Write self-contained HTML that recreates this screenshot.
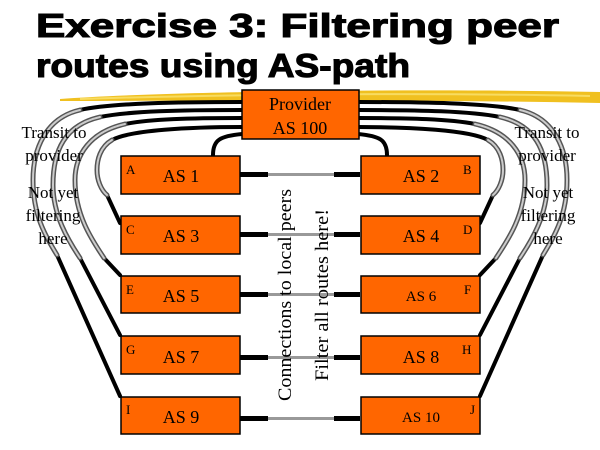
<!DOCTYPE html>
<html><head><meta charset="utf-8"><style>html,body{margin:0;padding:0;background:#fff;}svg{display:block}</style></head>
<body>
<svg width="600" height="450" viewBox="0 0 600 450" xmlns="http://www.w3.org/2000/svg">
<g font-family="Liberation Sans, sans-serif" font-weight="bold" font-size="33" stroke="#000" stroke-width="1.1">
<text x="36" y="37" textLength="523" lengthAdjust="spacingAndGlyphs">Exercise 3: Filtering peer</text>
<text x="36" y="77" textLength="374" lengthAdjust="spacingAndGlyphs">routes using AS-path</text>
</g>
<path d="M60,99 C150,92 400,88 600,92 L600,103 C400,99 200,101 60,101 Z" fill="#f0c020"/>
<path d="M80,99 C200,95 400,92 590,96" stroke="#f8dc60" stroke-width="2" fill="none"/>
<g fill="none" stroke-linecap="round">
<g id="L">
<g stroke="#000" stroke-width="4">
<path d="M242,102 C180,102 110,103 80,110"/><path d="M57,255 L120,396"/>
<path d="M242,110 C180,110 130,111 100,117"/><path d="M80,258 L120,335"/>
<path d="M242,118 C190,118 150,119 125,124"/><path d="M104,258 L120,275"/>
<path d="M242,127 C190,127 130,130 112,140"/><path d="M107,195 L120,223"/>
<path d="M242,134 C220,136 213,140 213,155"/>
</g>
<g id="G">
<path d="M80,110 C45,118 33,150 33,180 C33,215 45,235 57,255"/>
<path d="M100,117 C65,125 53,150 53,185 C53,215 68,240 80,258"/>
<path d="M125,124 C90,132 75,155 75,180 C75,215 92,240 104,258"/>
<path d="M112,140 C100,147 97,160 97,170 C97,180 101,190 107,195"/>
</g>
</g>
<g id="Gs">
<use href="#G" stroke="#555" stroke-width="5"/>
<use href="#G" stroke="#ccc" stroke-width="2"/>
</g>
<g transform="translate(600,0) scale(-1,1)">
<use href="#L"/>
<use href="#Gs"/>
</g>
</g>
<g>
<rect x="240" y="172" width="28" height="5"/><rect x="268" y="173" width="66" height="3" fill="#999"/><rect x="334" y="172" width="26" height="5"/>
<rect x="240" y="232" width="28" height="5"/><rect x="268" y="233" width="66" height="3" fill="#999"/><rect x="334" y="232" width="26" height="5"/>
<rect x="240" y="292" width="28" height="5"/><rect x="268" y="293" width="66" height="3" fill="#999"/><rect x="334" y="292" width="26" height="5"/>
<rect x="240" y="355" width="28" height="5"/><rect x="268" y="356" width="66" height="3" fill="#999"/><rect x="334" y="355" width="26" height="5"/>
<rect x="240" y="416" width="28" height="5"/><rect x="268" y="417" width="66" height="3" fill="#999"/><rect x="334" y="416" width="26" height="5"/>
</g>
<g fill="#ff6600" stroke="#000" stroke-width="1.5">
<rect x="242" y="90" width="117" height="49"/>
<rect x="121" y="156" width="119" height="38"/><rect x="361" y="156" width="119" height="38"/>
<rect x="121" y="216" width="119" height="38"/><rect x="361" y="216" width="119" height="38"/>
<rect x="121" y="276" width="119" height="37"/><rect x="361" y="276" width="119" height="37"/>
<rect x="121" y="336" width="119" height="38"/><rect x="361" y="336" width="119" height="38"/>
<rect x="121" y="397" width="119" height="37"/><rect x="361" y="397" width="119" height="37"/>
</g>
<g font-family="Liberation Serif, serif" fill="#000">
<g font-size="18" text-anchor="middle">
<text x="300" y="110">Provider</text><text x="300" y="134">AS 100</text>
<text x="181" y="182">AS 1</text><text x="421" y="182">AS 2</text>
<text x="181" y="242">AS 3</text><text x="421" y="242">AS 4</text>
<text x="181" y="302">AS 5</text><text x="421" y="363">AS 8</text>
<text x="181" y="363">AS 7</text><text x="181" y="423">AS 9</text>
</g>
<g font-size="15" text-anchor="middle">
<text x="421" y="301">AS 6</text><text x="421" y="422">AS 10</text>
</g>
<g font-size="13">
<text x="126" y="174">A</text><text x="463" y="174">B</text>
<text x="126" y="234">C</text><text x="463" y="234">D</text>
<text x="126" y="294">E</text><text x="464" y="294">F</text>
<text x="126" y="354">G</text><text x="462" y="354">H</text>
<text x="126" y="414">I</text><text x="470" y="414">J</text>
</g>
<g font-size="17" text-anchor="middle">
<text x="54" y="138">Transit to</text><text x="54" y="161">provider</text>
<text x="53" y="198">Not yet</text><text x="53" y="221">filtering</text><text x="53" y="244">here</text>
<text x="547" y="138">Transit to</text><text x="547" y="161">provider</text>
<text x="548" y="198">Not yet</text><text x="548" y="221">filtering</text><text x="548" y="244">here</text>
</g>
<text font-size="19" transform="translate(291,401) rotate(-90)" textLength="212" lengthAdjust="spacingAndGlyphs">Connections to local peers</text>
<text font-size="19" transform="translate(328,381) rotate(-90)" textLength="172" lengthAdjust="spacingAndGlyphs">Filter all routes here!</text>
</g>
</svg>
</body></html>
